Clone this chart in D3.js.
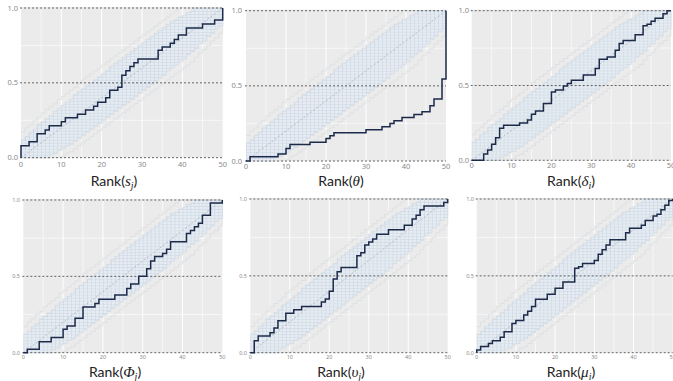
<!DOCTYPE html>
<html>
<head>
<meta charset="utf-8">
<script src="https://cdn.jsdelivr.net/npm/d3@7"></script>
<style>
  html,body{margin:0;padding:0;background:#fff;}
  svg{display:block;}
</style>
</head>
<body>
<svg id="chart" width="673" height="381"></svg>
<script>
// ---------- DATA ----------
const ranks = d3.range(0, 51);
const xTicks = [0, 10, 20, 30, 40, 50];
const yTicks = [0, 0.5, 1];
const yTickLabels = ["0.0", "0.5", "1.0"];

// observed ECDF step values on [r, r+1)
const obsS = [0.08,0.08,0.107,0.107,0.16,0.16,0.185,0.214,0.214,0.214,0.24,0.267,0.267,0.267,0.29,0.29,0.318,0.318,0.343,0.37,0.37,0.40,0.45,0.45,0.47,0.55,0.58,0.61,0.635,0.66,0.66,0.66,0.66,0.66,0.717,0.74,0.74,0.764,0.79,0.82,0.82,0.866,0.866,0.866,0.866,0.893,0.893,0.893,0.92,0.92,1.0];
const obsTheta = [0,0.029,0.029,0.029,0.029,0.029,0.029,0.029,0.047,0.047,0.084,0.109,0.109,0.109,0.109,0.109,0.124,0.124,0.124,0.124,0.149,0.168,0.188,0.188,0.188,0.188,0.188,0.188,0.188,0.188,0.208,0.208,0.208,0.208,0.228,0.228,0.25,0.268,0.268,0.29,0.29,0.29,0.31,0.31,0.328,0.328,0.368,0.412,0.412,0.545,1.0];
const obsDelta = [0,0,0,0.042,0.069,0.107,0.15,0.214,0.234,0.234,0.234,0.234,0.25,0.25,0.27,0.307,0.33,0.33,0.38,0.38,0.457,0.47,0.47,0.497,0.514,0.535,0.535,0.535,0.57,0.57,0.57,0.614,0.675,0.675,0.69,0.69,0.735,0.78,0.8,0.8,0.8,0.84,0.84,0.9,0.91,0.93,0.95,0.95,0.98,1.0,1.0];
const obsPhi = [0,0.022,0.022,0.022,0.072,0.072,0.072,0.1,0.1,0.1,0.153,0.175,0.175,0.225,0.225,0.3,0.3,0.3,0.323,0.35,0.35,0.35,0.35,0.378,0.378,0.378,0.42,0.45,0.45,0.5,0.5,0.55,0.6,0.63,0.63,0.65,0.677,0.727,0.727,0.727,0.727,0.78,0.8,0.825,0.847,0.9,0.9,0.98,0.98,0.98,1.0];
const obsUpsilon = [0,0.078,0.108,0.108,0.108,0.13,0.16,0.208,0.208,0.256,0.256,0.28,0.28,0.3,0.3,0.3,0.3,0.3,0.33,0.35,0.4,0.48,0.527,0.555,0.555,0.555,0.555,0.63,0.65,0.7,0.72,0.74,0.77,0.77,0.77,0.8,0.8,0.8,0.8,0.83,0.83,0.87,0.895,0.93,0.955,0.955,0.955,0.955,0.955,0.977,1.0];
const obsMu = [0.017,0.04,0.04,0.06,0.078,0.078,0.1,0.137,0.137,0.19,0.21,0.21,0.245,0.27,0.3,0.347,0.347,0.347,0.38,0.38,0.42,0.42,0.46,0.46,0.46,0.55,0.56,0.58,0.58,0.58,0.6,0.64,0.67,0.7,0.735,0.735,0.735,0.735,0.78,0.81,0.81,0.81,0.83,0.86,0.86,0.89,0.9,0.93,0.96,0.99,1.0];

// simultaneous envelope (inner band) and outer extreme curves
const bandUpper = [0.12,0.14,0.17,0.19,0.22,0.24,0.26,0.28,0.31,0.33,0.35,0.37,0.39,0.42,0.44,0.46,0.48,0.50,0.52,0.54,0.56,0.58,0.61,0.63,0.65,0.67,0.69,0.71,0.73,0.75,0.77,0.79,0.81,0.83,0.85,0.87,0.89,0.91,0.92,0.94,0.95,0.97,0.98,1,1,1,1,1,1,1,1];
const bandLower = [0,0,0,0,0,0,0,0.02,0.03,0.05,0.06,0.08,0.09,0.11,0.13,0.15,0.17,0.19,0.21,0.23,0.25,0.27,0.29,0.31,0.33,0.35,0.37,0.39,0.41,0.43,0.45,0.47,0.49,0.51,0.53,0.55,0.58,0.60,0.62,0.64,0.66,0.69,0.71,0.73,0.76,0.78,0.81,0.83,0.86,0.88,1];
const outerUpper = [0.17,0.2,0.22,0.25,0.27,0.3,0.32,0.34,0.36,0.39,0.41,0.43,0.45,0.47,0.5,0.52,0.54,0.56,0.58,0.6,0.62,0.64,0.66,0.68,0.7,0.72,0.74,0.76,0.78,0.8,0.82,0.84,0.86,0.88,0.9,0.92,0.94,0.96,0.98,1,1,1,1,1,1,1,1,1,1,1,1];
const outerLower = [0,0,0,0,0,0,0,0,0,0,0.01,0.03,0.04,0.06,0.08,0.1,0.12,0.14,0.16,0.18,0.2,0.22,0.24,0.26,0.28,0.3,0.32,0.34,0.36,0.38,0.4,0.42,0.44,0.46,0.48,0.5,0.52,0.54,0.56,0.58,0.6,0.62,0.64,0.67,0.7,0.72,0.75,0.78,0.8,0.83,1];

const series = [obsS, obsTheta, obsDelta, obsPhi, obsUpsilon, obsMu];
// axis titles: [prefix, math symbol, subscript]
const titles = [["Rank(", "s", "j"], ["Rank(", "θ", ""], ["Rank(", "δ", "i"],
                ["Rank(", "Φ", "j"], ["Rank(", "υ", "j"], ["Rank(", "μ", "i"]];

// ---------- LAYOUT ----------
const layout = [
  {x0: 21,    x1: 222.7, yT: 8,    yB: 157.7, fs: 7.5, tx: 114, ty: 185.5, ylx: 18,  xly: 164},
  {x0: 246,   x1: 446,   yT: 10.7, yB: 161,   fs: 7.5, tx: 341, ty: 185.5, ylx: 242, xly: 166.5},
  {x0: 471.7, x1: 671,   yT: 10.7, yB: 160.3, fs: 7.5, tx: 571, ty: 185.5, ylx: 469, xly: 165.5},
  {x0: 23.3,  x1: 222.3, yT: 200,  yB: 352.7, fs: 5.5, tx: 115, ty: 376.5, ylx: 20,  xly: 357},
  {x0: 250.3, x1: 447.7, yT: 199,  yB: 352.7, fs: 5.5, tx: 341, ty: 376.5, ylx: 247, xly: 357},
  {x0: 476.7, x1: 672.7, yT: 199,  yB: 352.7, fs: 5.5, tx: 571, ty: 376.5, ylx: 474, xly: 357}
];

const svg = d3.select("#chart");
const defs = svg.append("defs");

series.forEach((obs, i) => {
  const L = layout[i];
  const x = d3.scaleLinear().domain([0, 50]).range([L.x0, L.x1]);
  const y = d3.scaleLinear().domain([0, 1]).range([L.yB, L.yT]);
  const g = svg.append("g");

  // hatch pattern
  const pw = x(1) - x(0), ph = y(0) - y(0.02);
  const pat = defs.append("pattern").attr("id", "hatch" + i)
    .attr("patternUnits", "userSpaceOnUse")
    .attr("x", L.x0).attr("y", L.yB)
    .attr("width", pw).attr("height", ph);
  pat.append("rect").attr("width", pw).attr("height", ph).attr("fill", "#e6ecf2");
  pat.append("path").attr("d", `M0,0.25H${pw}M0.25,0V${ph}`)
    .attr("stroke", "#c3d1df").attr("stroke-width", 0.55).attr("fill", "none");

  // panel background
  g.append("rect").attr("x", L.x0).attr("y", L.yT - 1)
    .attr("width", L.x1 - L.x0).attr("height", L.yB - L.yT + 1)
    .attr("fill", "#ebebeb");

  // white grid
  g.selectAll(".vg").data(d3.range(5, 50, 5)).join("line")
    .attr("x1", d => x(d)).attr("x2", d => x(d))
    .attr("y1", L.yT).attr("y2", L.yB)
    .attr("stroke", "#fff").attr("stroke-width", d => d % 10 === 0 ? 1 : 0.6);
  g.selectAll(".hg").data([0.25, 0.75]).join("line")
    .attr("x1", L.x0).attr("x2", L.x1)
    .attr("y1", d => y(d)).attr("y2", d => y(d))
    .attr("stroke", "#fff").attr("stroke-width", 0.6);

  const stepLine = (arr) => d3.line().curve(d3.curveStepAfter)
    .x(d => x(d[0])).y(d => y(d[1]))(arr);

  // outer extreme curves
  [outerUpper, outerLower].forEach(arr => {
    g.append("path").attr("d", stepLine(ranks.map(r => [r, arr[r]])))
      .attr("fill", "none").attr("stroke", "#d9dce0").attr("stroke-width", 0.7);
  });

  // band
  const area = d3.area().curve(d3.curveStepAfter)
    .x(r => x(r)).y0(r => y(bandLower[r])).y1(r => y(bandUpper[r]));
  g.append("path").attr("d", area(ranks)).attr("fill", `url(#hatch${i})`);
  [bandUpper, bandLower].forEach(arr => {
    g.append("path").attr("d", stepLine(ranks.map(r => [r, arr[r]])))
      .attr("fill", "none").attr("stroke", "#d0d8e2").attr("stroke-width", 0.7);
  });

  // diagonal
  g.append("line").attr("x1", x(0)).attr("y1", y(0)).attr("x2", x(50)).attr("y2", y(1))
    .attr("stroke", "#a9b0ba").attr("stroke-width", 0.8).attr("stroke-dasharray", "2,2");

  // dashed reference lines
  g.selectAll(".ref").data(yTicks).join("line")
    .attr("x1", L.x0 - 1).attr("x2", L.x1)
    .attr("y1", d => y(d)).attr("y2", d => y(d))
    .attr("stroke", "#555").attr("stroke-width", 0.9).attr("stroke-dasharray", "2,2");

  // observed step curve
  const pts = [[0, 0]].concat(ranks.map(r => [r, obs[r]]));
  g.append("path").attr("d", stepLine(pts))
    .attr("fill", "none").attr("stroke", "#1d2b4a").attr("stroke-width", 1.5);

  // tick labels
  g.selectAll(".yl").data(yTicks).join("text")
    .attr("x", L.ylx).attr("y", d => y(d)).attr("dy", "0.35em")
    .attr("text-anchor", "end").attr("font-family", "Noto Sans, sans-serif")
    .attr("font-size", L.fs).attr("fill", "#8a8a8a")
    .text((d, k) => yTickLabels[k]);
  g.selectAll(".xl").data(xTicks).join("text")
    .attr("x", d => x(d)).attr("y", L.xly).attr("dy", "0.35em")
    .attr("text-anchor", "middle").attr("font-family", "Noto Sans, sans-serif")
    .attr("font-size", L.fs).attr("fill", "#8a8a8a")
    .text(d => d);

  // axis title
  const t = titles[i];
  const tt = g.append("text").attr("x", L.tx).attr("y", L.ty)
    .attr("text-anchor", "middle").attr("font-family", "Lato, Noto Sans, sans-serif")
    .attr("font-size", 14).attr("fill", "#222");
  tt.append("tspan").text(t[0]);
  tt.append("tspan").attr("font-family", "Liberation Serif, serif").attr("font-style", "italic")
    .attr("font-size", 15).text(t[1]);
  if (t[2]) {
    tt.append("tspan").attr("font-family", "Liberation Serif, serif").attr("font-style", "italic")
      .attr("font-size", 10).attr("dy", 3.5).text(t[2]);
    tt.append("tspan").attr("dy", -3.5).text(")");
  } else {
    tt.append("tspan").text(")");
  }
});
</script>
</body>
</html>
